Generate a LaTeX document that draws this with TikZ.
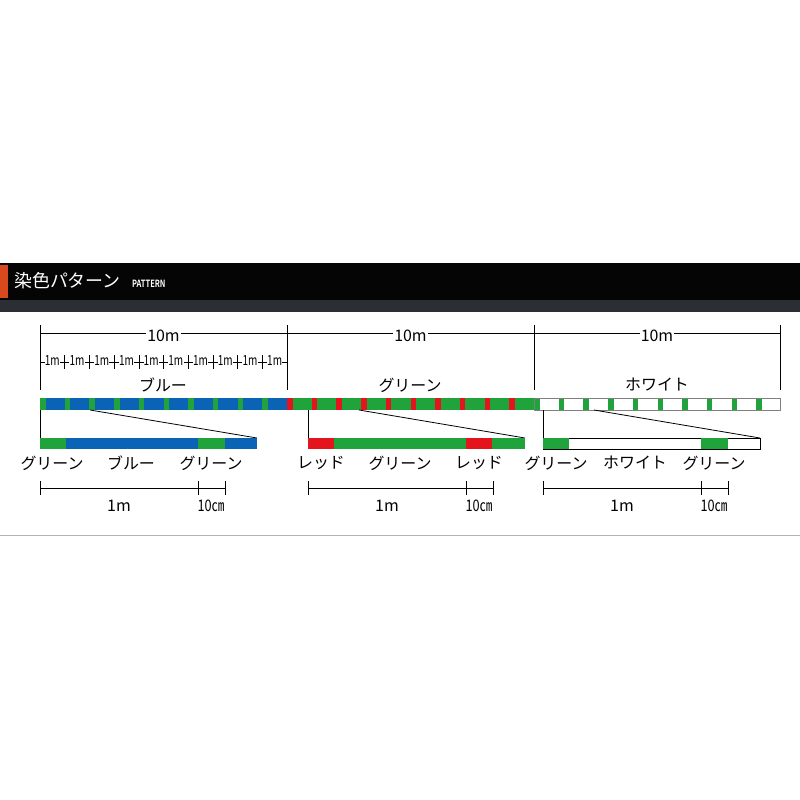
\documentclass[tikz,border=0pt]{standalone}
\usepackage{fontspec}
\setmainfont{Noto Sans CJK JP}
\newfontfamily\jpb{Noto Sans CJK JP Bold}
\definecolor{gr}{HTML}{1FA33A}
\definecolor{bl}{HTML}{0B63B5}
\definecolor{rd}{HTML}{E3141B}
\definecolor{hdr}{HTML}{050505}
\definecolor{hdr2}{HTML}{2B2F33}
\definecolor{org}{HTML}{D9491E}
\tikzset{lab/.style={font=\fontsize{16}{16}\selectfont, inner sep=0pt},
 sm/.style={font=\fontsize{14}{14}\selectfont, inner sep=0pt},
 dim/.style={line width=0.8pt}}
\begin{document}
\begin{tikzpicture}[x=1bp,y=-1bp]
\useasboundingbox (0,0) rectangle (800,800);
\fill[white] (0,0) rectangle (800,800);
\fill[hdr] (0,263) rectangle (800,300);
\fill[hdr2] (0,300) rectangle (800,312);
\fill[org] (0,265) rectangle (8,298);
\node[anchor=west, text=white, inner sep=0pt, font=\fontsize{18}{18}\selectfont] (t) at (14,281) {染色パターン};
\node[anchor=west, text=white, inner sep=0pt, font=\jpb\fontsize{10}{10}\selectfont, xscale=0.75] (t2) at (132,284) {PATTERN};
\draw[gray!60, line width=0.8pt] (0,535) -- (800,535);
% top dimensions
\foreach \x in {40,287,534,780} \draw[dim] (\x,325) -- (\x,390);
\foreach \a/\b in {40/287,287/534,534/780} {
  \draw[dim] (\a,333) -- (\b,333);
  \node[lab, fill=white, inner xsep=1pt] at ({(\a+\b)/2},336) {10m};
}
\foreach \i in {0,...,9} {
  \draw[line width=0.6pt] ({40+24.7*\i},362) -- ({40+24.7*(\i+1)},362);
  \draw[line width=0.6pt] ({40+24.7*\i},355) -- ({40+24.7*\i},369);
  \node[sm, fill=white, inner xsep=0.3pt, xscale=0.72] at ({40+24.7*\i+12.35},361) {1m};
}
\node[lab] (lb) at (163,385) {ブルー};
\node[lab] (lg) at (410,385) {グリーン};
\node[lab] (lw) at (657,385) {ホワイト};
% main bar
\fill[bl] (40,398) rectangle (287,410);
\fill[gr] (287,398) rectangle (534,410);
\fill[white] (534,398) rectangle (780,410);
\foreach \i in {0,...,9} {
  \fill[gr] ({40+24.7*\i},398) rectangle ({40+24.7*\i+5.5},410);
  \fill[rd] ({287+24.7*\i},398) rectangle ({287+24.7*\i+5.5},410);
  \fill[gr] ({534+24.7*\i},398) rectangle ({534+24.7*\i+5.5},410);
}
\draw[gray, line width=0.6pt] (534,398) rectangle (780,410);
% sub bars
\draw[line width=0.8pt] (40,410) -- (40,438);
\draw[line width=0.8pt] (90,410) -- (257,438);
\draw[line width=0.8pt] (308,410) -- (308,438);
\draw[line width=0.8pt] (359,410) -- (525,438);
\draw[line width=0.8pt] (543,410) -- (543,438);
\draw[line width=0.8pt] (594,410) -- (760,438);
\fill[gr] (40,438) rectangle (66,449); \fill[bl] (66,438) rectangle (198,449);
\fill[gr] (198,438) rectangle (225,449); \fill[bl] (225,438) rectangle (257,449);
\fill[rd] (308,438) rectangle (334,449); \fill[gr] (334,438) rectangle (466,449);
\fill[rd] (466,438) rectangle (492,449); \fill[gr] (492,438) rectangle (525,449);
\draw[black, line width=0.6pt] (543,438) rectangle (760,449);
\fill[gr] (543.3,438.3) rectangle (569,448.7); \fill[gr] (701,438.3) rectangle (728,448.7);
% labels under subbars
\node[lab] at (52,463) {グリーン};
\node[lab] at (131,463) {ブルー};
\node[lab] at (211,463) {グリーン};
\node[lab] at (321,463) {レッド};
\node[lab] at (400,463) {グリーン};
\node[lab] at (479,463) {レッド};
\node[lab] at (556,463) {グリーン};
\node[lab] at (635,463) {ホワイト};
\node[lab] at (714,463) {グリーン};
% bottom dims
\foreach \a in {40,308,543} {
  \draw[line width=0.6pt] (\a,488) -- (\a+185,488);
  \foreach \d in {0,158,185} \draw[line width=0.6pt] (\a+\d,481) -- (\a+\d,495);
  \node[lab] at (\a+79,506) {1m};
  \node[lab, xscale=0.8] at (\a+171,506) {10㎝};
}
\end{tikzpicture}
\end{document}
